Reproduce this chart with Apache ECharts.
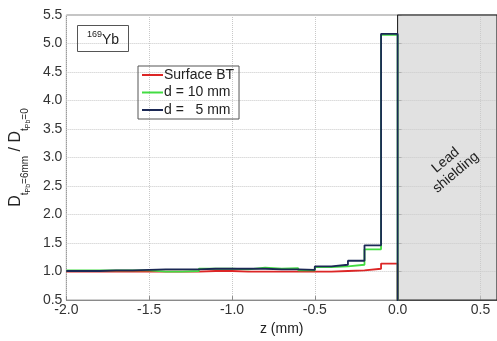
<!DOCTYPE html>
<html>
<head>
<meta charset="utf-8">
<script src="https://cdn.jsdelivr.net/npm/echarts@6/dist/echarts.min.js"></script>
<style>html,body{margin:0;padding:0;background:#fff}#c{width:497px;height:341px}</style>
</head>
<body>
<div id="c"></div>
<script>
// Bin left edges (mm) and the end of the last bin
const binStarts = [-2.0,-1.9,-1.8,-1.7,-1.6,-1.5,-1.4,-1.3,-1.2,-1.1,-1.0,-0.9,-0.8,-0.7,-0.6,-0.5,-0.4,-0.3,-0.2,-0.1];
const binEnd = 0.0;
const seriesNames = ['Surface BT', 'd = 10 mm', 'd =   5 mm'];
const surfaceBT = [1.00,1.00,1.00,1.00,1.00,1.00,1.00,1.00,1.01,1.01,1.00,1.00,1.00,1.00,1.00,1.00,1.01,1.02,1.05,1.14];
const d10mm     = [1.02,1.02,1.02,1.02,1.02,1.00,1.00,1.01,1.05,1.05,1.04,1.07,1.05,1.06,1.02,1.08,1.09,1.12,1.39,5.15];
const d5mm      = [1.01,1.01,1.02,1.02,1.03,1.04,1.04,1.04,1.05,1.05,1.05,1.05,1.04,1.04,1.03,1.09,1.12,1.19,1.46,5.17];
const xTicks = {min: -2.0, max: 0.6, interval: 0.5};
const yTicks = {min: 0.5, max: 5.5, interval: 0.5};
const shieldStart = 0.0;

function stepData(vals) {
  const d = binStarts.map((x, i) => [x, vals[i]]);
  d.push([binEnd, 0]);
  return d;
}

const chart = echarts.init(document.getElementById('c'), null, {renderer: 'canvas'});
const font = 'Liberation Sans, Arial, sans-serif';
const colors = ['#dc2626', '#42dc42', '#1b2855'];
const valsList = [surfaceBT, d10mm, d5mm];

const series = [{
  type: 'line', name: 'shield', data: [], z: 1, silent: true,
  markArea: {
    silent: true,
    itemStyle: {color: 'rgba(205,205,205,0.6)', borderColor: '#1a1a1a', borderWidth: 1},
    label: {show: true, position: 'inside', rotate: 40, formatter: 'Lead\nshielding',
      fontFamily: font, fontSize: 14, lineHeight: 16, color: '#222', offset: [-3, 9]},
    data: [[{xAxis: shieldStart, yAxis: yTicks.min}, {xAxis: xTicks.max, yAxis: yTicks.max}]]
  }
}];
seriesNames.forEach((n, i) => {
  series.push({
    type: 'line', name: n, data: stepData(valsList[i]), step: 'end',
    symbol: 'none', showSymbol: false, z: 3 + i,
    lineStyle: {color: colors[i], width: 1.8}, itemStyle: {color: colors[i]}
  });
});

chart.setOption({
  animation: false,
  textStyle: {fontFamily: font},
  grid: {left: 65, top: 15, right: -2, bottom: 36, show: true, borderColor: '#8a8a8a', borderWidth: 1},
  title: {
    text: '{sup|169}{m|Yb}', left: 77, top: 25,
    borderColor: '#555', borderWidth: 1, padding: [5, 10, 5, 10],
    textStyle: {fontWeight: 'normal', rich: {
      sup: {fontFamily: font, fontSize: 9, fontWeight: 'normal', color: '#222', verticalAlign: 'top', lineHeight: 17},
      m: {fontFamily: font, fontSize: 14, fontWeight: 'normal', color: '#222', lineHeight: 17, verticalAlign: 'bottom'}
    }}
  },
  legend: {
    data: seriesNames, orient: 'vertical', left: 138, top: 66,
    borderColor: '#555', borderWidth: 1, padding: [2, 5, 2, 4],
    itemWidth: 21, itemHeight: 2, itemGap: 3.5, icon: 'rect',
    textStyle: {fontFamily: font, fontSize: 14, color: '#222', padding: [0, 0, 0, -4]}
  },
  xAxis: {
    type: 'value', min: xTicks.min, max: xTicks.max, interval: xTicks.interval,
    name: 'z (mm)', nameLocation: 'middle', nameGap: 21,
    nameTextStyle: {fontFamily: font, fontSize: 14, color: '#222'},
    axisLine: {lineStyle: {color: '#8a8a8a'}},
    axisTick: {inside: true, length: 4, lineStyle: {color: '#8a8a8a'}},
    axisLabel: {fontFamily: font, fontSize: 14, color: '#333', margin: 3, showMaxLabel: false,
      formatter: v => v.toFixed(1)},
    splitLine: {show: true, lineStyle: {type: 'dotted', color: '#c8c8c8'}}
  },
  yAxis: {
    type: 'value', min: yTicks.min, max: yTicks.max, interval: yTicks.interval,
    name: '{a|D}{s|t}{ss|Pb}{s|=6mm}{a| / D}{s|t}{ss|Pb}{s|=0}',
    nameLocation: 'middle', nameGap: 28, nameRotate: 90,
    nameTextStyle: {rich: {
      a: {fontFamily: font, fontSize: 16, color: '#222', verticalAlign: 'bottom', padding: [0, 0, 8, 0]},
      s: {fontFamily: font, fontSize: 10, color: '#222', verticalAlign: 'bottom', padding: [0, 0, 2, 0]},
      ss: {fontFamily: font, fontSize: 7, color: '#222', verticalAlign: 'bottom', padding: [0, 0, 0, 0]}
    }},
    axisLine: {show: true, lineStyle: {color: '#8a8a8a'}},
    axisTick: {show: true, inside: true, length: 4, lineStyle: {color: '#8a8a8a'}},
    axisLabel: {fontFamily: font, fontSize: 14, color: '#333', margin: 4,
      formatter: v => v.toFixed(1)},
    splitLine: {show: true, lineStyle: {type: 'dotted', color: '#c8c8c8'}}
  },
  series: series
});
</script>
</body>
</html>
